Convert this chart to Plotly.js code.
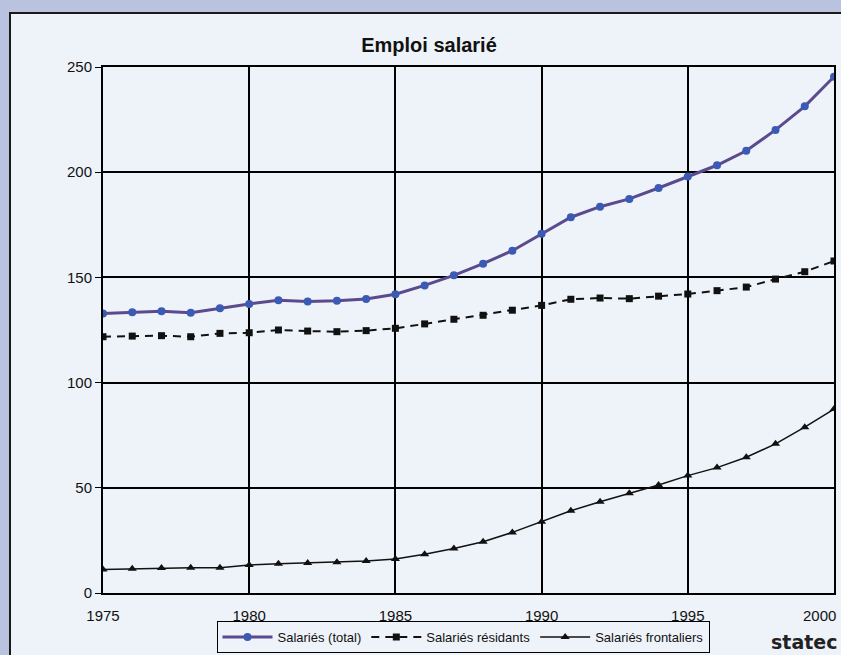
<!DOCTYPE html>
<html>
<head>
<meta charset="utf-8">
<script src="https://cdn.plot.ly/plotly-3.0.1.min.js"></script>
<style>
html,body{margin:0;padding:0;background:#b9c3e0;}
#chart{width:841px;height:655px;}
</style>
</head>
<body>
<div id="chart"></div>
<script>
const years = [1975,1976,1977,1978,1979,1980,1981,1982,1983,1984,1985,1986,1987,1988,1989,1990,1991,1992,1993,1994,1995,1996,1997,1998,1999,2000];
const totalSalaries = [132.9,133.4,133.9,133.2,135.3,137.4,139.1,138.6,138.9,139.7,142.0,146.2,151.0,156.5,162.7,170.8,178.6,183.6,187.3,192.5,197.9,203.3,210.2,220.1,231.3,245.4];
const residents = [121.8,122.1,122.3,121.8,123.4,123.7,125.0,124.5,124.2,124.7,125.8,127.9,130.1,132.0,134.4,136.7,139.6,140.2,139.9,141.1,142.1,143.7,145.4,149.2,152.7,157.8];
const frontaliers = [11.2,11.5,11.9,12.0,12.0,13.3,13.9,14.3,14.6,15.2,16.2,18.4,21.2,24.4,28.8,33.9,39.1,43.4,47.4,51.3,55.8,59.6,64.5,70.9,78.8,87.4];
const seriesNames = ['Salariés (total)','Salariés résidants','Salariés frontaliers'];
const xTicks = [1975,1980,1985,1990,1995];
const lastXTick = 2000;
const yTicks = [0,50,100,150,200,250];

const traces = [
  {x: years, y: totalSalaries, name: seriesNames[0], mode: 'lines+markers',
   line: {color: '#5b4a8e', width: 3}, marker: {symbol: 'circle', size: 8, color: '#3a5ab4'}},
  {x: years, y: residents, name: seriesNames[1], mode: 'lines+markers',
   line: {color: '#111111', width: 2, dash: '8px,6px'}, marker: {symbol: 'square', size: 7, color: '#111111'}},
  {x: years, y: frontaliers, name: seriesNames[2], mode: 'lines+markers',
   line: {color: '#111111', width: 1.5}, marker: {symbol: 'triangle-up', size: 8, color: '#111111'}}
];

const L = 103, R = 7, T = 67, B = 62;
const pw = 841 - L - R, ph = 655 - T - B;
const px = v => (v - L) / pw;
const py = v => (655 - B - v) / ph;
const FONT = 'Liberation Sans, Arial, sans-serif';

const layout = {
  width: 841, height: 655,
  margin: {l: L, r: R, t: T, b: B, autoexpand: false},
  paper_bgcolor: '#b9c3e0',
  plot_bgcolor: 'rgba(0,0,0,0)',
  font: {family: FONT, size: 15, color: '#111111'},
  title: {text: '<b>Emploi salarié</b>', font: {size: 20, color: '#111111', family: FONT},
          x: px(429), xref: 'paper', xanchor: 'center', y: 1 - 45/655, yref: 'container', yanchor: 'middle'},
  xaxis: {range: [1975, 2000], tickvals: xTicks, ticktext: xTicks.map(String), showgrid: true, gridcolor: '#000000', gridwidth: 2,
          showline: true, linecolor: '#000000', linewidth: 2, mirror: true, zeroline: false, ticks: '',
          ticklabelstandoff: 8, tickfont: {size: 15}, fixedrange: true, automargin: false},
  yaxis: {range: [0, 250], tickvals: yTicks, showgrid: true, gridcolor: '#000000', gridwidth: 2,
          showline: true, linecolor: '#000000', linewidth: 2, mirror: true, zeroline: false,
          ticks: 'outside', ticklen: 6, tickcolor: '#000000', tickwidth: 1, tickfont: {size: 15}, fixedrange: true, automargin: false},
  showlegend: true,
  legend: {orientation: 'h', x: px(463), xanchor: 'center', y: py(653), yanchor: 'bottom', itemwidth: 50,
           bgcolor: '#eef3f9', bordercolor: '#000000', borderwidth: 1, font: {size: 13}, traceorder: 'normal'},
  shapes: [
    {type: 'rect', xref: 'paper', yref: 'paper', x0: px(10), x1: px(860), y0: py(670), y1: py(13),
     fillcolor: '#eef3f9', line: {color: '#1a1a1a', width: 2}, layer: 'below'}
  ],
  annotations: [
    {text: String(lastXTick), xref: 'x', yref: 'y', x: lastXTick, xanchor: 'right', xshift: 4, y: 0, yanchor: 'top', yshift: -12,
     showarrow: false, font: {family: FONT, size: 15, color: '#111111'}},
    {text: '<b>statec</b>', xref: 'paper', yref: 'paper', x: px(769), xanchor: 'left', y: py(642), yanchor: 'middle',
     showarrow: false, font: {family: 'DejaVu Sans, sans-serif', size: 19, color: '#222222'}}
  ]
};

Plotly.newPlot('chart', traces, layout, {displayModeBar: false, staticPlot: true});
</script>
</body>
</html>
